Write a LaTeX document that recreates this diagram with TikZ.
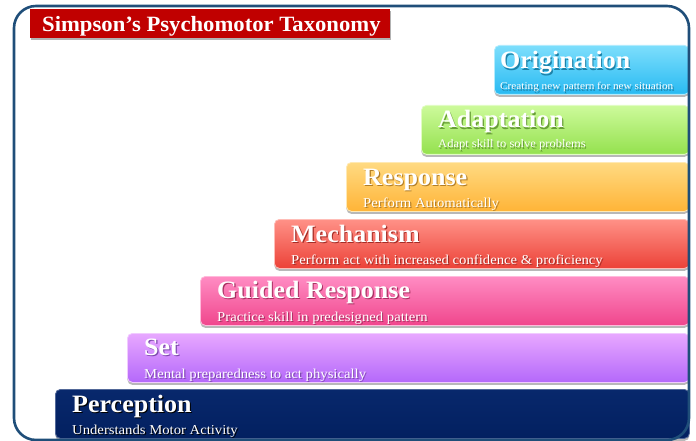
\documentclass[tikz,border=0pt]{standalone}
\usepackage{fontspec}
\setmainfont{Liberation Serif}
\newfontfamily\titfont[FakeStretch=1.04]{Liberation Serif}
\newfontfamily\subfont[FakeStretch=1.08]{Liberation Serif}
\usetikzlibrary{shadows}
\definecolor{frameblue}{RGB}{31,78,121}
\definecolor{hdrred}{RGB}{192,0,0}
\definecolor{oriT}{RGB}{125,222,252}\definecolor{oriB}{RGB}{40,186,242}
\definecolor{adaT}{RGB}{205,250,155}\definecolor{adaB}{RGB}{148,225,78}
\definecolor{resT}{RGB}{255,218,130}\definecolor{resB}{RGB}{255,180,55}
\definecolor{mecT}{RGB}{255,145,135}\definecolor{mecB}{RGB}{236,66,56}
\definecolor{gudT}{RGB}{255,140,195}\definecolor{gudB}{RGB}{240,70,140}
\definecolor{setT}{RGB}{232,168,255}\definecolor{setB}{RGB}{180,104,250}
\definecolor{perT}{RGB}{8,40,108}\definecolor{perB}{RGB}{3,32,96}
\newcommand{\shtxt}[2]{\makebox[0pt][l]{\kern1.1pt\raisebox{-1.1pt}{\color{#1}#2}}#2}
\tikzset{
  stepbox/.style={rounded corners=5pt, minimum height=49pt, inner sep=0pt,
    anchor=north west, line width=0.8pt,
    drop shadow={shadow xshift=0pt,shadow yshift=-2.5pt,opacity=0.28,fill=black}},
  ttl/.style={text=white, inner sep=0pt, anchor=base west,
    font=\titfont\bfseries\fontsize{25}{25}\selectfont},
  sub/.style={text=white, inner sep=0pt, anchor=base west,
    font=\subfont\fontsize{13.6}{14}\selectfont},
  subsm/.style={text=white, inner sep=0pt, anchor=base west,
    font=\subfont\fontsize{10.4}{11}\selectfont},
}
\begin{document}
\begin{tikzpicture}[x=1pt,y=-1pt]
\useasboundingbox (0,0) rectangle (696,441);
% header
\node[fill=hdrred, minimum width=360pt, minimum height=29pt, inner sep=0pt, anchor=north west,
  drop shadow={shadow xshift=1pt,shadow yshift=-2pt,opacity=0.3,fill=black}] (hdr) at (30,9) {};
\node[text=white, inner sep=0pt, anchor=base west,
  font=\titfont\bfseries\fontsize{21.8}{22}\selectfont] (hdrtxt) at (42,32) {Simpson’s Psychomotor Taxonomy};
% steps
\node[stepbox, top color=oriT, bottom color=oriB, draw=oriT!60!white, minimum width=195pt] (b1) at (494,45) {};
\node[ttl] (t1) at (500,69) {\shtxt{oriB!70!black}{Origination}};
\node[subsm] (s1) at (500,90) {\shtxt{oriB!70!black}{Creating new pattern for new situation}};

\node[stepbox, top color=adaT, bottom color=adaB, draw=adaT!60!white, minimum width=268pt] (b2) at (421,105) {};
\node[ttl] (t2) at (438,128) {\shtxt{adaB!70!black}{Adaptation}};
\node[subsm, font=\subfont\fontsize{11.6}{12}\selectfont] (s2) at (438,148) {\shtxt{adaB!70!black}{Adapt skill to solve problems}};

\node[stepbox, top color=resT, bottom color=resB, draw=resT!60!white, minimum width=343pt] (b3) at (346,162) {};
\node[ttl] (t3) at (363,185) {\shtxt{resB!70!black}{Response}};
\node[sub] (s3) at (363,207) {\shtxt{resB!70!black}{Perform Automatically}};

\node[stepbox, top color=mecT, bottom color=mecB, draw=mecT!60!white, minimum width=415pt] (b4) at (274,219) {};
\node[ttl] (t4) at (291,242) {\shtxt{mecB!70!black}{Mechanism}};
\node[sub] (s4) at (291,264) {\shtxt{mecB!70!black}{Perform act with increased confidence \& proficiency}};

\node[stepbox, top color=gudT, bottom color=gudB, draw=gudT!60!white, minimum width=489pt] (b5) at (200,276) {};
\node[ttl] (t5) at (217,298) {\shtxt{gudB!70!black}{Guided Response}};
\node[sub] (s5) at (217,321) {\shtxt{gudB!70!black}{Practice skill in predesigned pattern}};

\node[stepbox, top color=setT, bottom color=setB, draw=setT!60!white, minimum width=562pt] (b6) at (127,333) {};
\node[ttl] (t6) at (144,355) {\shtxt{setB!70!black}{Set}};
\node[sub] (s6) at (144,378) {\shtxt{setB!70!black}{Mental preparedness to act physically}};

\node[stepbox, top color=perT, bottom color=perB, draw=perT!70!white, minimum width=634pt] (b7) at (55,389) {};
\node[ttl] (t7) at (72,412) {\shtxt{black}{Perception}};
\node[sub] (s7) at (72,434) {\shtxt{black}{Understands Motor Activity}};
% frame
\draw[frameblue, line width=2.6pt, rounded corners=22pt] (14,6) rectangle (689,440);
\end{tikzpicture}
\end{document}
